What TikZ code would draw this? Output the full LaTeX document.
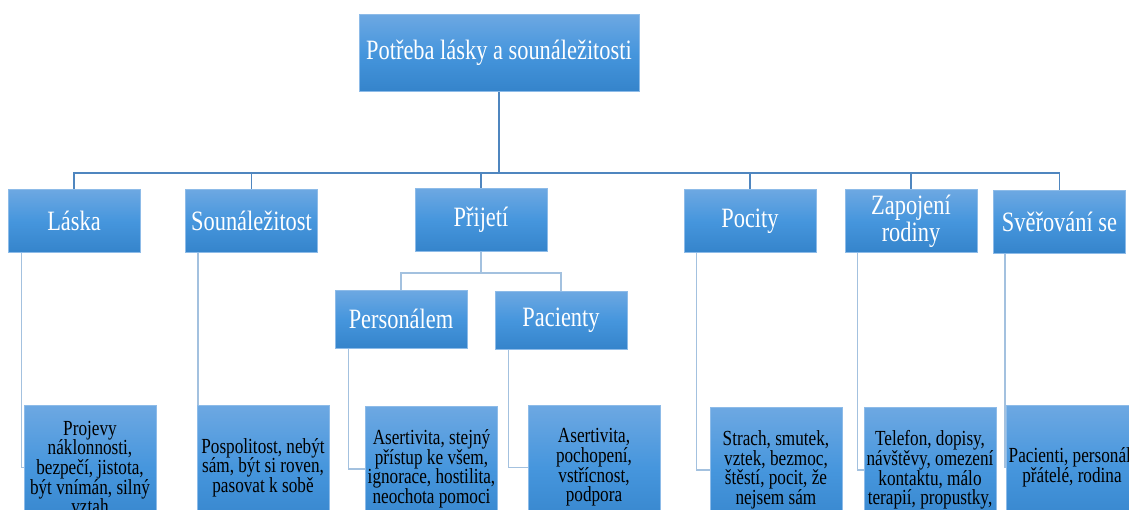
\documentclass[tikz,border=0pt]{standalone}
\usepackage{fontspec}
\setmainfont[FakeStretch=0.8]{Liberation Serif}
\usetikzlibrary{backgrounds}
\definecolor{boxtop}{HTML}{6DA8E2}
\definecolor{boxmid}{HTML}{4696DD}
\definecolor{boxbot}{HTML}{3584CB}
\definecolor{boxedge}{HTML}{8DBBE8}
\definecolor{busblue}{HTML}{4F86BF}
\definecolor{subblue}{HTML}{A3C1DF}

\tikzset{
  box/.style={rectangle, draw=boxedge, line width=0.6pt, top color=boxtop, bottom color=boxbot, middle color=boxmid,
    align=center, inner sep=2pt, text=white, font=\fontsize{28}{27}\selectfont},
  headbox/.style={box, minimum width=280, minimum height=77},
  catbox/.style={box, minimum width=132, minimum height=63},
  subbox/.style={box, minimum width=132, minimum height=58},
  leafbox/.style={box, text=black, minimum width=132, minimum height=125, font=\fontsize{21.5}{19.6}\selectfont},
  busline/.style={draw=busblue, line width=1.8pt},
  subline/.style={draw=subblue, line width=1.5pt}
}

\begin{document}
\begin{tikzpicture}[x=1pt,y=-1pt]
			\useasboundingbox (0,0) rectangle (1129,509);
			\clip (0,0) rectangle (1129,509);
			% head
			\node[headbox] (potreba) at (499,52.5) {Potřeba lásky a sounáležitosti};
			% categories
			\node[catbox] (laska) at (74,221) {Láska};
			\node[catbox] (sounalezitost) at (251.5,221) {Sounáležitost};
			\node[catbox] (prijeti) at (481,220) {Přijetí};
			\node[catbox] (pocity) at (750,221) {Pocity};
			\node[catbox] (zapojeni) at (911,221) {Zapojení\\rodiny};
			\node[catbox] (sverovani) at (1059.5,222) {Svěřování se};
			\node[subbox] (personalem) at (401,319) {Personálem};
			\node[subbox] (pacienty) at (561,320) {Pacienty};
			% leaves
			\node[leafbox] (projevy) at (90,467.5) {Projevy\\náklonnosti,\\bezpečí, jistota,\\být vnímán, silný\\vztah};
			\node[leafbox] (pospolitost) at (263,467.5) {Pospolitost, nebýt\\sám, být si roven,\\pasovat k sobě};
			\node[leafbox] (asertivitaA) at (431.5,469) {Asertivita, stejný\\přístup ke všem,\\ignorace, hostilita,\\neochota pomoci};
			\node[leafbox] (asertivitaB) at (594,467.5) {Asertivita,\\pochopení,\\vstřícnost,\\podpora};
			\node[leafbox] (strach) at (776,470) {Strach, smutek,\\vztek, bezmoc,\\štěstí, pocit, že\\nejsem sám};
			\node[leafbox] (telefon) at (930,470) {Telefon, dopisy,\\návštěvy, omezení\\kontaktu, málo\\terapií, propustky,};
			\node[leafbox] (pacienti) at (1072,467.5) {Pacienti, personál,\\přátelé, rodina};
			\begin{scope}[on background layer]
				\coordinate (bus) at (499,173);
				\draw[busline] (potreba.south) -- (bus);
				\foreach \n in {laska,sounalezitost,prijeti,pocity,zapojeni,sverovani}{
					\draw[busline] (bus) -| (\n.north);
				}
				\coordinate (subbus) at (481,273);
				\draw[subline] (prijeti.south) -- (subbus);
				\draw[subline] (subbus) -| (personalem.north);
				\draw[subline] (subbus) -| (pacienty.north);
				\draw[subline] ([xshift=14]laska.south west) |- (projevy.west);
				\draw[subline] ([xshift=13]sounalezitost.south west) |- (pospolitost.west);
				\draw[subline] ([xshift=14]personalem.south west) |- (asertivitaA.west);
				\draw[subline] ([xshift=14]pacienty.south west) |- (asertivitaB.west);
				\draw[subline] ([xshift=13]pocity.south west) |- (strach.west);
				\draw[subline] ([xshift=13]zapojeni.south west) |- (telefon.west);
				\draw[subline] ([xshift=12]sverovani.south west) |- (pacienti.west);
			\end{scope}
		\end{tikzpicture}
\end{document}
